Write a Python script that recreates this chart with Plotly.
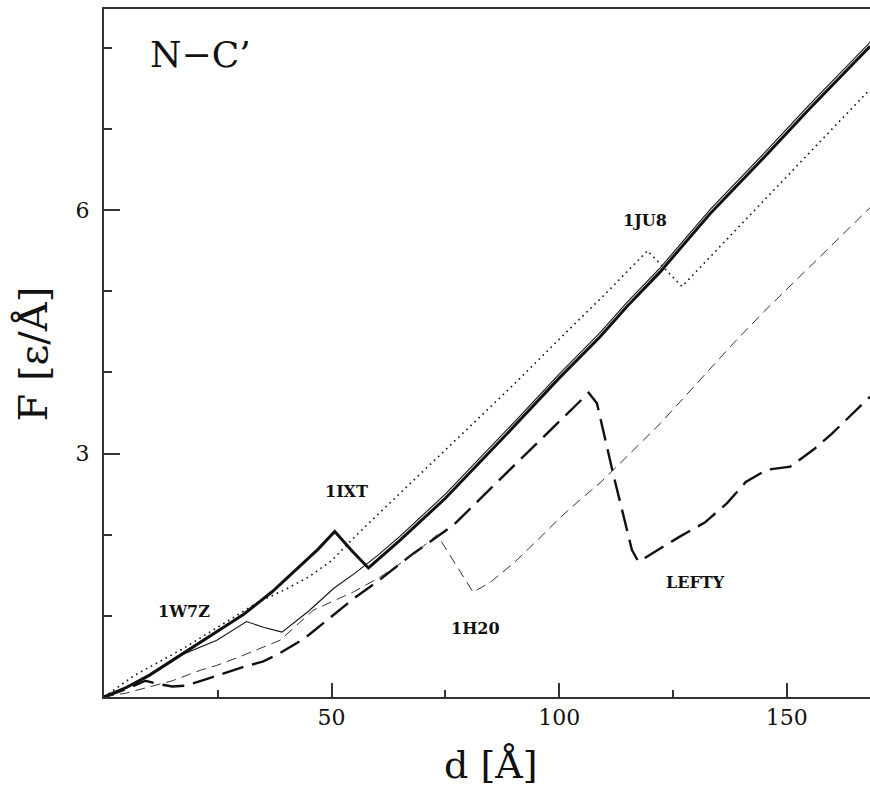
import plotly.graph_objects as go

# ---- data ----
# 1IXT (thick solid)
ixt_d = [0, 5, 10, 17.5, 25, 30.7, 37, 43.1, 47, 50.7, 54.5, 58.1, 65, 75, 90, 100, 109, 115, 122.2, 133.2, 145, 155, 168.3]
ixt_f = [0, 0.12, 0.27, 0.54, 0.82, 1.02, 1.30, 1.61, 1.82, 2.04, 1.80, 1.59, 1.93, 2.45, 3.33, 3.93, 4.44, 4.82, 5.24, 5.96, 6.65, 7.25, 8.02]

# 1W7Z (thin solid)
w7z_d = [0, 5, 10, 17.5, 24.8, 31.3, 35, 39.1, 45, 50.5, 55, 60, 65, 75, 90, 100, 109, 115, 122.2, 133.2, 145, 155, 168.3]
w7z_f = [0, 0.11, 0.26, 0.53, 0.70, 0.93, 0.86, 0.80, 1.06, 1.34, 1.52, 1.74, 1.98, 2.50, 3.38, 3.98, 4.49, 4.87, 5.29, 6.01, 6.70, 7.30, 8.07]

# 1JU8 (dotted)
ju8_d = [0, 6.5, 17.5, 25, 30.7, 33.6, 40, 45, 50, 55, 60, 70, 80, 90, 100, 110, 119.4, 127, 137, 147.1, 158, 168.3]
ju8_f = [0, 0.26, 0.60, 0.86, 1.05, 1.16, 1.33, 1.48, 1.68, 1.97, 2.24, 2.78, 3.31, 3.85, 4.41, 4.96, 5.50, 5.06, 5.65, 6.24, 6.88, 7.49]

# 1H20 (thin dashed)
h20_d = [0, 5, 15, 21.2, 24.8, 30, 38.7, 46, 55, 60.7, 66, 70, 73.2, 77, 81.1, 85, 90, 95, 100, 105, 109, 115, 122.2, 130, 138.3, 145, 155, 168.3]
h20_f = [0, 0.05, 0.20, 0.33, 0.39, 0.50, 0.70, 1.07, 1.30, 1.48, 1.68, 1.85, 2.00, 1.65, 1.29, 1.42, 1.65, 1.92, 2.20, 2.45, 2.64, 2.97, 3.37, 3.85, 4.36, 4.75, 5.30, 6.03]

# LEFTY (thick long dashes)
lefty_d = [0, 5, 9.1, 12, 15, 17.9, 22, 26.3, 30, 35, 38, 44, 49, 55, 60, 68, 76.8, 82.7, 89.3, 93.7, 101, 106.5, 108.3, 112, 116, 117.4, 119, 126.6, 132, 136.9, 141, 145.6, 150.8, 155.9, 160, 168.3]
lefty_f = [0, 0.10, 0.20, 0.16, 0.13, 0.14, 0.21, 0.29, 0.36, 0.44, 0.52, 0.72, 0.95, 1.22, 1.42, 1.77, 2.12, 2.44, 2.81, 3.05, 3.45, 3.75, 3.62, 2.72, 1.81, 1.67, 1.72, 1.98, 2.15, 2.39, 2.65, 2.80, 2.84, 3.05, 3.25, 3.70]

# curve labels
label_text = ["1W7Z", "1IXT", "1H20", "1JU8", "LEFTY"]
label_d = [17.5, 53.3, 81.6, 118.9, 129.9]
label_f = [1.06, 2.53, 0.85, 5.87, 1.41]

x_major = [50, 100, 150]
x_minor = [25, 75, 125]
y_major = [3, 6]
y_minor = [1, 2, 4, 5, 7, 8]

FONT = "DejaVu Serif"
INK = "#111111"

fig = go.Figure()
fig.add_trace(go.Scatter(x=lefty_d, y=lefty_f, mode="lines",
                         line=dict(color=INK, width=2.4, dash="22px,9px")))
fig.add_trace(go.Scatter(x=h20_d, y=h20_f, mode="lines",
                         line=dict(color="#333333", width=1.0, dash="10px,6px")))
fig.add_trace(go.Scatter(x=ju8_d, y=ju8_f, mode="lines",
                         line=dict(color=INK, width=1.6, dash="1.6px,4px")))
fig.add_trace(go.Scatter(x=ixt_d, y=ixt_f, mode="lines",
                         line=dict(color=INK, width=3.0)))
fig.add_trace(go.Scatter(x=w7z_d, y=w7z_f, mode="lines",
                         line=dict(color=INK, width=1.1)))

for t, xd, yf in zip(label_text, label_d, label_f):
    fig.add_annotation(x=xd, y=yf, xref="x", yref="y", text="<b>" + t + "</b>", showarrow=False,
                       xanchor="center", yanchor="middle",
                       font=dict(family=FONT, size=16, color=INK))

fig.add_annotation(x=9.75, y=7.92, xref="x", yref="y", text="N\u2212C\u2019", showarrow=False,
                   xanchor="left", yanchor="middle",
                   font=dict(family=FONT, size=36, color=INK))

# axis titles
fig.add_annotation(x=0.505, y=-0.099, xref="paper", yref="paper", text="d [\u00c5]",
                   showarrow=False, xanchor="center", yanchor="middle",
                   font=dict(family=FONT, size=38, color=INK))
fig.add_annotation(x=-0.093, y=0.499, xref="paper", yref="paper", text="F [\u03b5/\u00c5]",
                   showarrow=False, xanchor="center", yanchor="middle", textangle=-90,
                   font=dict(family=FONT, size=40, color=INK))

fig.update_layout(
    width=870, height=787,
    margin=dict(l=104, r=0, t=9, b=90),
    paper_bgcolor="white", plot_bgcolor="white",
    showlegend=False,
    font=dict(family=FONT, color=INK),
)
fig.update_xaxes(
    range=[0, 168.3], showgrid=False, zeroline=False,
    showline=True, linecolor="#333333", linewidth=2, mirror=True,
    tickmode="array", tickvals=x_major, ticktext=[str(v) for v in x_major],
    ticks="inside", ticklen=14, tickwidth=1.5, tickcolor="#333333",
    tickfont=dict(family=FONT, size=22, color=INK),
    minor=dict(tickmode="array", tickvals=x_minor, ticks="inside", ticklen=7,
               tickwidth=1.5, tickcolor="#333333", showgrid=False),
)
fig.update_yaxes(
    range=[0, 8.48], showgrid=False, zeroline=False,
    showline=True, linecolor="#333333", linewidth=2, mirror=False,
    tickmode="array", tickvals=y_major, ticktext=[str(v) for v in y_major],
    ticks="inside", ticklen=16, tickwidth=1.5, tickcolor="#333333",
    tickfont=dict(family=FONT, size=22, color=INK),
    ticklabelstandoff=8,
    minor=dict(tickmode="array", tickvals=y_minor, ticks="inside", ticklen=8,
               tickwidth=1.5, tickcolor="#333333", showgrid=False),
)

fig.write_html("out.html")
